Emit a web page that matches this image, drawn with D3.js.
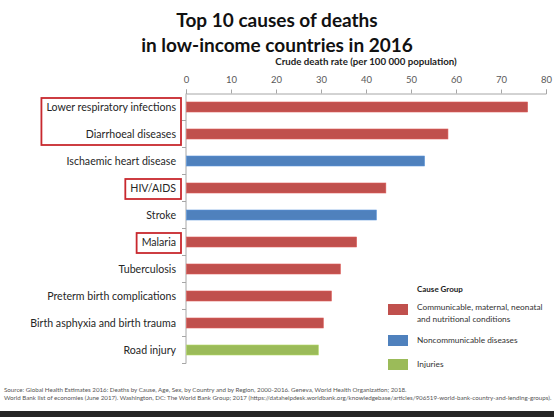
<!DOCTYPE html>
<html>
<head>
<meta charset="utf-8">
<script src="https://cdn.jsdelivr.net/npm/d3@7"></script>
<style>
  body { margin: 0; background: #fff; }
  svg { display: block; font-family: Lato, "Open Sans", sans-serif; }
</style>
</head>
<body>
<svg id="chart" width="554" height="417"></svg>
<script>
const causes = [
    "Lower respiratory infections",
    "Diarrhoeal diseases",
    "Ischaemic heart disease",
    "HIV/AIDS",
    "Stroke",
    "Malaria",
    "Tuberculosis",
    "Preterm birth complications",
    "Birth asphyxia and birth trauma",
    "Road injury"
];
const rates = [75.8, 58.1, 52.9, 44.3, 42.2, 37.8, 34.2, 32.2, 30.4, 29.3];
const groups = ["comm", "comm", "ncd", "comm", "ncd", "comm", "comm", "comm", "comm", "inj"];
const highlighted = [["Lower respiratory infections", "Diarrhoeal diseases"], ["HIV/AIDS"], ["Malaria"]];
const groupKeys = ["comm", "ncd", "inj"];
const groupLabels = [
    ["Communicable, maternal, neonatal", "and nutritional conditions"],
    ["Noncommunicable diseases"],
    ["Injuries"]
];
const xTicks = [0, 10, 20, 30, 40, 50, 60, 70, 80];

const data = causes.map((c, i) => ({ cause: c, rate: rates[i], group: groups[i] }));

const svg = d3.select("#chart");

const color = d3.scaleOrdinal()
    .domain(groupKeys)
    .range(["#c0504d", "#4f81bd", "#9bbb59"]);

// échelles
const x = d3.scaleLinear().domain([0, 80]).range([186, 546]);
const y = d3.scaleBand()
    .domain(causes)
    .range([93.5, 363.5])
    .paddingInner(0.63)
    .paddingOuter(0.315);
const step = y.step();

// titre
svg.append("text")
    .attr("x", 277).attr("y", 27)
    .attr("text-anchor", "middle")
    .style("font-size", "19px").style("font-weight", "bold").attr("fill", "#111")
    .text("Top 10 causes of deaths");
svg.append("text")
    .attr("x", 277).attr("y", 52)
    .attr("text-anchor", "middle")
    .style("font-size", "19px").style("font-weight", "bold").attr("fill", "#111")
    .text("in low-income countries in 2016");

svg.append("text")
    .attr("x", 366).attr("y", 65)
    .attr("text-anchor", "middle")
    .style("font-size", "9.7px").style("font-weight", "bold").attr("fill", "#222")
    .text("Crude death rate (per 100 000 population)");

// axe du haut
const xAxis = svg.append("g")
    .attr("transform", `translate(0, ${y.range()[0]})`)
    .call(d3.axisTop(x).tickValues(xTicks).tickSize(4).tickPadding(7));
xAxis.select(".domain").attr("stroke", "#a6a6a6");
xAxis.selectAll(".tick line").attr("stroke", "#a6a6a6");
xAxis.selectAll(".tick text")
    .attr("fill", "#595959")
    .style("font-size", "9.5px")
    .style("font-family", "Lato, sans-serif");

// axe de gauche (graduations entre catégories)
const y0 = y.range()[0], y1 = y.range()[1];
svg.append("line")
    .attr("x1", x(0)).attr("x2", x(0))
    .attr("y1", y0).attr("y2", y1)
    .attr("stroke", "#a6a6a6");
svg.selectAll(".ytick")
    .data(causes)
    .enter()
    .append("line")
    .attr("x1", x(0) - 4).attr("x2", x(0))
    .attr("y1", d => y(d) - step * 0.315 + step)
    .attr("y2", d => y(d) - step * 0.315 + step)
    .attr("stroke", "#a6a6a6");

// barres
svg.selectAll(".bar")
    .data(data)
    .enter()
    .append("rect")
    .attr("x", x(0) + 0.5)
    .attr("y", d => y(d.cause))
    .attr("width", d => x(d.rate) - x(0))
    .attr("height", y.bandwidth())
    .attr("fill", d => color(d.group))
    .attr("stroke", d => d3.color(color(d.group)).brighter(0.4))
    .attr("stroke-width", 0.6);

// étiquettes des catégories
const labels = svg.selectAll(".ylabel")
    .data(data)
    .enter()
    .append("text")
    .attr("x", 176)
    .attr("y", d => y(d.cause) + y.bandwidth() / 2)
    .attr("dy", "0.35em")
    .attr("text-anchor", "end")
    .style("font-size", "10.6px")
    .attr("fill", "#262626")
    .text(d => d.cause);

// cadres rouges autour des causes soulignées
highlighted.forEach(list => {
    let left = 1e9;
    labels.filter(d => list.includes(d.cause)).each(function () {
        left = Math.min(left, this.getBBox().x);
    });
    const top = y(list[0]) - step * 0.315 + 4.5;
    const bottom = y(list[list.length - 1]) - step * 0.315 + step - 2.5;
    svg.append("rect")
        .attr("x", left - 5)
        .attr("y", top)
        .attr("width", 181 - (left - 5))
        .attr("height", bottom - top)
        .attr("fill", "none")
        .attr("stroke", "#c8282e")
        .attr("stroke-width", 1.8);
});

// légende
const legend = svg.append("g");
legend.append("text")
    .attr("x", 417).attr("y", 292)
    .style("font-size", "8px").style("font-weight", "bold").attr("fill", "#222")
    .text("Cause Group");
const legendY = [304, 335, 359];
groupKeys.forEach((k, i) => {
    legend.append("rect")
        .attr("x", 388).attr("y", legendY[i])
        .attr("width", 20).attr("height", 11)
        .attr("fill", color(k));
    const lines = groupLabels[i];
    lines.forEach((t, j) => {
        legend.append("text")
            .attr("x", 417)
            .attr("y", legendY[i] + (lines.length > 1 ? 3.5 : 5.5) + j * 11.5)
            .attr("dy", "0.35em")
            .style("font-size", "8.3px")
            .attr("fill", "#333")
            .text(t);
    });
});

// source
svg.append("text")
    .attr("x", 4).attr("y", 392)
    .style("font-size", "6.2px").attr("fill", "#555")
    .text("Source: Global Health Estimates 2016: Deaths by Cause, Age, Sex, by Country and by Region, 2000-2016. Geneva, World Health Organization; 2018.");
svg.append("text")
    .attr("x", 4).attr("y", 399.5)
    .style("font-size", "6.2px").attr("fill", "#555")
    .text("World Bank list of economies (June 2017). Washington, DC: The World Bank Group; 2017 (https://datahelpdesk.worldbank.org/knowledgebase/articles/906519-world-bank-country-and-lending-groups).");

// bande sombre en bas
svg.append("rect")
    .attr("x", 0).attr("y", 411)
    .attr("width", 554).attr("height", 6)
    .attr("fill", "#262626");
</script>
</body>
</html>
